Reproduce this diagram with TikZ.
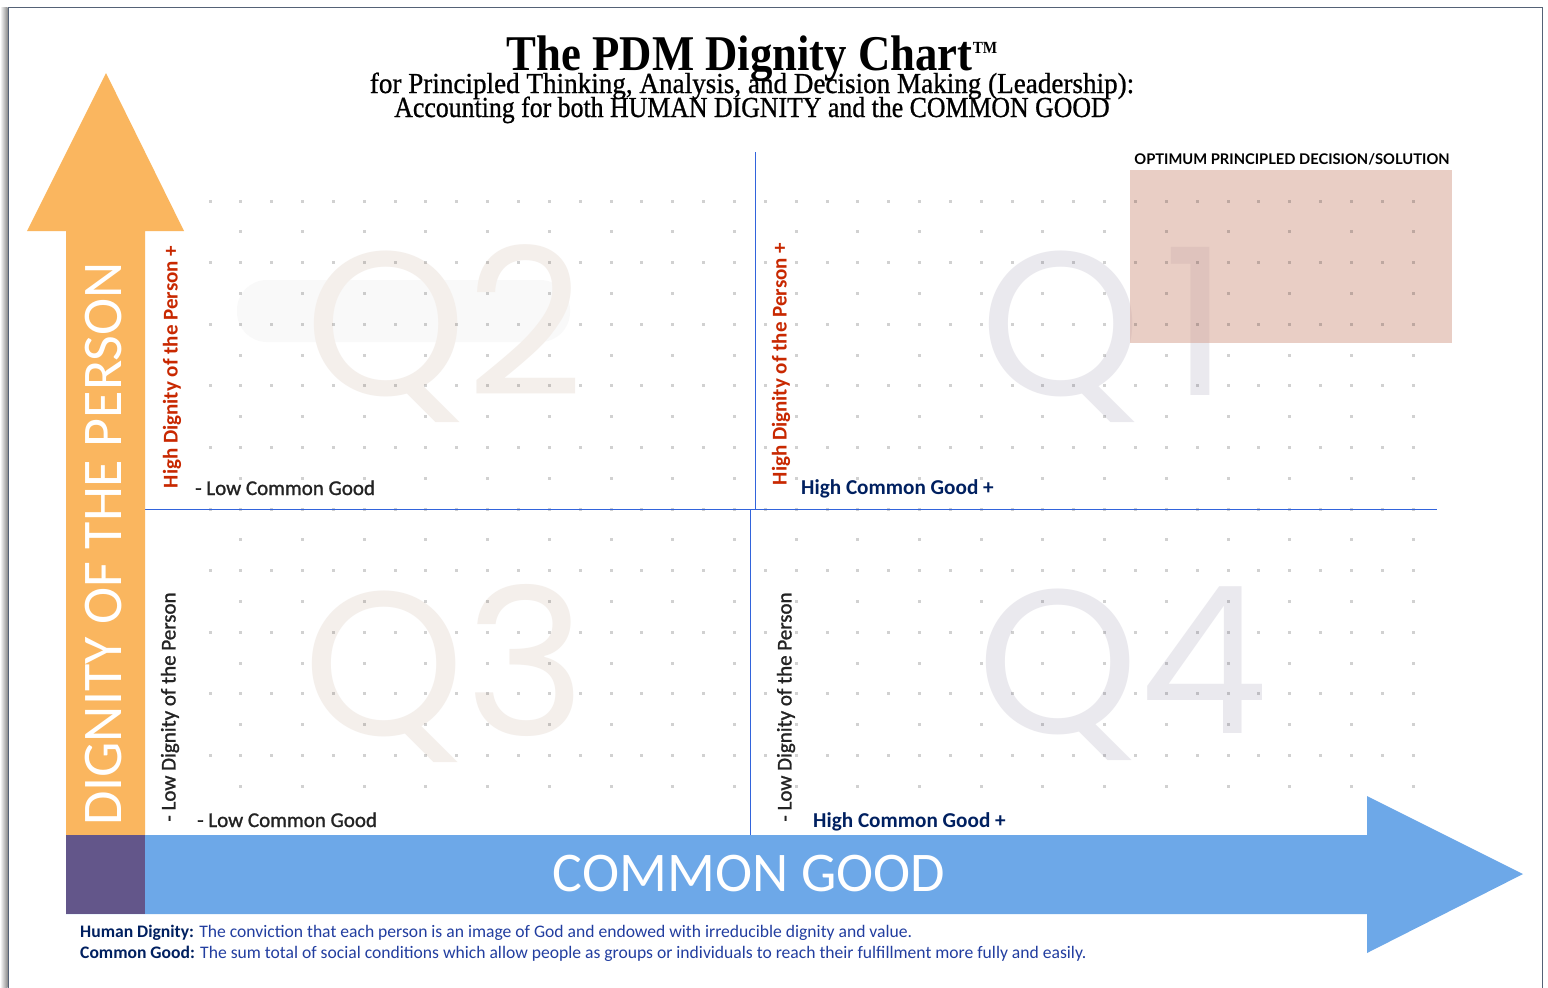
\documentclass[tikz,border=0pt]{standalone}
\usepackage{fontspec}
\setmainfont{Carlito}
\newfontfamily\medfont[FakeBold=1.2]{Carlito}
\newfontfamily\titlefont[FakeStretch=0.895]{Liberation Serif}
\newfontfamily\subfontA[FakeStretch=0.935,FakeBold=0.8]{Liberation Serif}
\newfontfamily\subfontB[FakeStretch=0.89,FakeBold=0.8]{Liberation Serif}
\newfontfamily\latofont{Lato}
\newfontfamily\quadfont{Poppins}

\definecolor{arrowOrange}{RGB}{250,182,95}
\definecolor{arrowBlue}{RGB}{109,168,232}
\definecolor{overlapPurple}{RGB}{99,86,138}
\definecolor{axisBlue}{RGB}{50,100,220}
\definecolor{labelRed}{RGB}{200,40,0}
\definecolor{labelNavy}{RGB}{0,32,96}
\definecolor{textGrey}{RGB}{35,35,35}
\definecolor{footBlue}{RGB}{34,62,160}
\definecolor{warmGhost}{RGB}{244,239,235}
\definecolor{coolGhost}{RGB}{234,233,238}
\definecolor{smearGhost}{RGB}{249,249,249}
\definecolor{optimumTint}{RGB}{213,159,141}
\definecolor{frameGrey}{RGB}{85,98,118}

\tikzset{
  axisline/.style={draw=axisBlue, line width=1pt},
  ghost/.style={font=\quadfont\fontsize{205}{205}\selectfont, inner sep=0pt, anchor=base},
  bigaxis/.style={font=\fontsize{56}{60}\selectfont, text=white, inner sep=0pt},
  highperson/.style={font=\bfseries\fontsize{21}{24}\selectfont, text=labelRed, rotate=90, inner sep=0pt},
  lowperson/.style={font=\medfont\fontsize{21}{24}\selectfont, text=textGrey, rotate=90, inner sep=0pt},
  lowgood/.style={font=\medfont\fontsize{21}{24}\selectfont, text=textGrey, anchor=base west, inner sep=0pt},
  highgood/.style={font=\bfseries\fontsize{21.2}{24}\selectfont, text=labelNavy, anchor=base west, inner sep=0pt},
  footline/.style={font=\fontsize{17.6}{20}\selectfont, text=footBlue, anchor=base west, inner sep=0pt},
  optbox/.style={fill=optimumTint, fill opacity=0.5, minimum width=322pt, minimum height=173pt, inner sep=0pt},
}

\begin{document}
\begin{tikzpicture}[x=1pt,y=-1pt]
\useasboundingbox (0,0) rectangle (1548,988);
\fill[white] (0,0) rectangle (1548,988);

% page frame with a soft shadow on its left side
\shade[left color=white, right color=black!45] (0,7) rectangle (7.5,988);
\draw[frameGrey, line width=1pt] (8,1000) -- (8,7) -- (1542.5,7) -- (1542.5,1000);

% watermark quadrant names
\fill[smearGhost, rounded corners=30pt] (237,280) rectangle (570,342);
\node[ghost, text=warmGhost] (q2) at (445,395) {Q2};
\node[ghost, text=coolGhost, anchor=base west] (q1) at (980,395) {Q\kern22pt 1};
\node[ghost, text=warmGhost] (q3) at (445,735) {Q3};
\node[ghost, text=coolGhost] (q4) at (1123,733) {Q4};

% optimum region
\node[optbox] (optimum) at (1291,256.5) {};
\node[font=\latofont\bfseries\fontsize{14.7}{16}\selectfont, inner sep=0pt] (optlabel) at (1292,159) {OPTIMUM PRINCIPLED DECISION/SOLUTION};

% dot grid
\foreach \r in {0,...,19}{
  \foreach \c in {0,...,39}{
    \pgfmathtruncatemacro{\keep}{or(iseven(\r),isodd(\c))}
    \ifnum\keep=1
      \fill[black, opacity=0.18] ({210+30.85*\c-1.5},{201+30.8*\r-1.5}) rectangle ++(3,3);
    \fi
  }
}

% quadrant axes
\coordinate (hleft) at (143,509);
\coordinate (hright) at (1437,509);
\coordinate (vtop) at (755,152);
\coordinate (vmid) at (755,509);
\coordinate (vmid2) at (750,509);
\coordinate (vbot) at (750,836);
\draw[axisline] (hleft) -- (hright);
\draw[axisline] (vtop) -- (vmid);
\draw[axisline] (vmid2) -- (vbot);

% big axis arrows
\fill[arrowOrange] (66,913) -- (66,231) -- (27,231) -- (106,73) -- (184,231) -- (145,231) -- (145,913) -- cycle;
\fill[arrowBlue] (66,835) -- (1367,835) -- (1367,796) -- (1523,874) -- (1367,953) -- (1367,914) -- (66,914) -- cycle;
\fill[overlapPurple] (66,835) rectangle (145,914);
\node[bigaxis, rotate=90] (dignity) at (104,544) {DIGNITY OF THE PERSON};
\node[bigaxis] (common) at (749,874) {COMMON GOOD};

% title block
\node[font=\titlefont\bfseries\fontsize{50}{55}\selectfont, inner sep=0pt, anchor=base] (title) at (752,70) {The PDM Dignity Chart\raisebox{17pt}{\fontsize{17}{17}\selectfont TM}};
\node[font=\subfontA\fontsize{29}{32}\selectfont, inner sep=0pt, anchor=base] (sub1) at (752,93) {for Principled Thinking, Analysis, and Decision Making (Leadership):};
\node[font=\subfontB\fontsize{29}{32}\selectfont, inner sep=0pt, anchor=base] (sub2) at (752,117) {Accounting for both HUMAN DIGNITY and the COMMON GOOD};

% quadrant labels
\node[highperson] (hp1) at (172,367) {High Dignity of the Person +};
\node[highperson] (hp2) at (781,364) {High Dignity of the Person +};
\node[lowperson] (lp1) at (170,707) {- Low Dignity of the Person};
\node[lowperson] (lp2) at (786,707) {- Low Dignity of the Person};
\node[lowgood] (lg1) at (195,495) {- Low Common Good};
\node[lowgood] (lg2) at (197,827) {- Low Common Good};
\node[highgood] (hg1) at (801,494) {High Common Good +};
\node[highgood] (hg2) at (813,827) {High Common Good +};

% definitions
\node[footline] (def1) at (80,937) {\textbf{\color{labelNavy}Human Dignity:} The conviction that each person is an image of God and endowed with irreducible dignity and value.};
\node[footline] (def2) at (80,958) {\textbf{\color{labelNavy}Common Good:} The sum total of social conditions which allow people as groups or individuals to reach their fulfillment more fully and easily.};
\end{tikzpicture}
\end{document}
